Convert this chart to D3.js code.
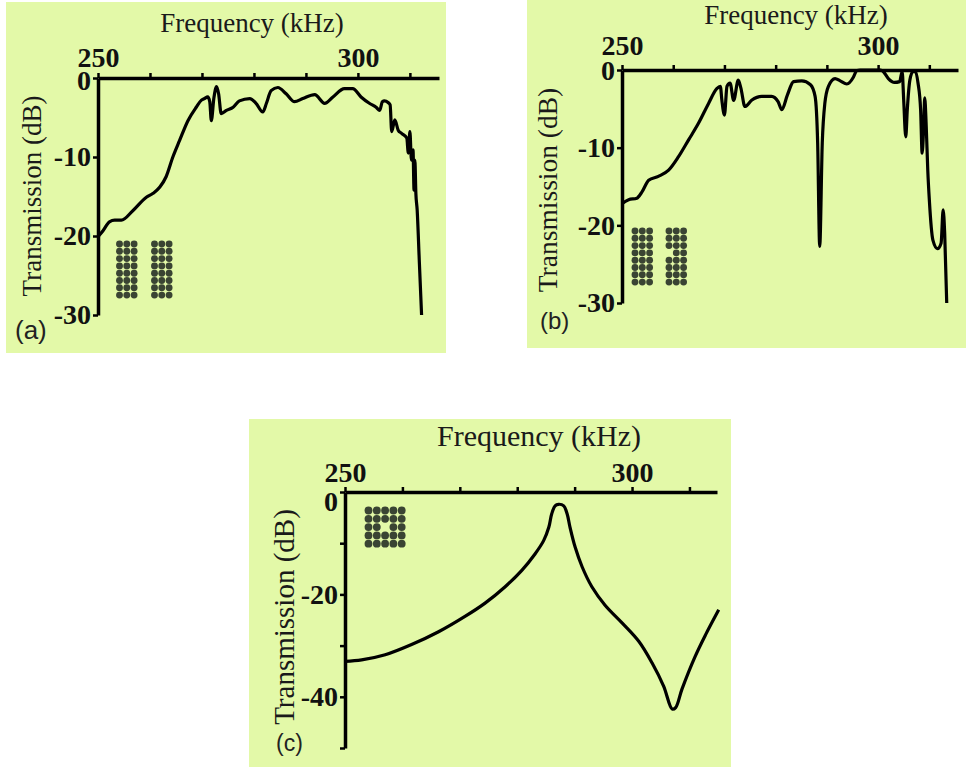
<!DOCTYPE html>
<html>
<head>
<meta charset="utf-8">
<script src="https://cdn.jsdelivr.net/npm/d3@7"></script>
<style>
  body { margin: 0; background: #fff; }
  .tick text { font-family: "Liberation Serif", "Times New Roman", serif; font-weight: bold; font-size: 28px; fill: #111; }
  .title { font-family: "Liberation Serif", "Times New Roman", serif; fill: #1a1a1a; }
  .plabel { font-family: "Liberation Sans", Arial, sans-serif; fill: #222; }
</style>
</head>
<body>
<svg id="fig" width="966" height="767"></svg>
<script>
// frequency (kHz) and transmission (dB)
const freqA = [250, 251, 252.2, 253.2, 254.5, 256.7, 259.3, 260.6, 261.9, 263.1, 264.4, 265.7, 267.3, 268.9, 269.9, 270.5, 271.1, 271.5, 271.8, 272.3, 272.8, 273.2, 273.7, 274.7, 276, 277.2, 279.2, 280.4, 281.7, 282.4, 283.3, 284.6, 286.2, 287.8, 289.4, 291.7, 293.6, 295.2, 297.4, 299, 300.6, 302.2, 303.5, 304.2, 304.7, 305.1, 305.8, 306.2, 306.5, 307.1, 307.75, 308.4, 309.4, 309.7, 310, 310.3, 310.6, 310.8, 310.96, 311.15, 311.4, 311.8, 312.25];
const transA = [-20.1, -19.3, -18.2, -18.0, -18.0, -16.8, -15.1, -14.6, -13.8, -12.5, -10.0, -7.9, -5.4, -3.7, -2.8, -2.6, -2.4, -3.0, -5.4, -2.5, -1.1, -2.0, -4.5, -4.1, -3.7, -2.9, -2.6, -3.2, -4.3, -3.2, -1.6, -1.2, -2.0, -3.0, -2.6, -2.1, -3.2, -2.4, -1.35, -1.35, -2.4, -3.2, -3.7, -4.1, -3.0, -2.9, -3.1, -3.4, -6.8, -5.3, -6.6, -7.0, -7.6, -9.5, -6.8, -10.4, -9.1, -14.2, -10.4, -14.6, -16.7, -23, -30];

const freqB = [250, 251.3, 252.9, 253.9, 255.2, 257.1, 259.1, 261, 263, 264.9, 266.9, 268.5, 269.2, 269.5, 270, 270.5, 271.1, 271.8, 272.7, 273.2, 274, 275.3, 277.3, 279.2, 280.5, 281.2, 282.3, 283.5, 285.1, 286.8, 287.7, 288.2, 288.6, 289.1, 289.6, 290.3, 291.6, 292.6, 293.9, 295.2, 295.8, 296.5, 300.5, 301, 302, 303.2, 304.2, 304.7, 305, 305.4, 305.7, 306.2, 306.8, 307.3, 307.8, 308.3, 308.6, 308.9, 309.1, 309.4, 309.7, 310, 310.7, 311.6, 312.3, 312.7, 313, 313.4];
const transB = [-17.2, -16.7, -16.5, -15.7, -14.2, -13.7, -12.9, -11.2, -9.0, -6.9, -4.3, -2.4, -2.1, -3.9, -5.8, -2.1, -1.7, -3.9, -1.3, -2.3, -4.7, -3.9, -3.4, -3.4, -4.1, -5.1, -3.2, -1.5, -1.4, -1.9, -3.4, -9.4, -22.7, -9.4, -4.3, -2.1, -1.1, -1.4, -1.8, -0.9, -0.1, 0, 0, -0.2, -1.1, -1.6, -1.5, -0.2, -3.9, -8.6, -5.1, -1.3, -0.2, -0.2, -1.7, -5.1, -10.7, -7.3, -3.6, -7.3, -12.9, -16.7, -21.9, -23, -22.3, -18, -21, -30];

const freqC = [250, 252.9, 257, 261.6, 266.3, 270.9, 274.4, 277.9, 280.8, 283.1, 284.6, 285.5, 286, 286.6, 287.2, 288.1, 288.7, 289.2, 290.1, 291.3, 293, 295.3, 298.3, 301.2, 303.5, 305.5, 307, 307.6, 308.7, 311, 312.8, 315.1];
const transC = [-33.1, -32.8, -31.8, -29.8, -27.3, -24.3, -21.7, -18.5, -15.3, -12.1, -9.5, -6.9, -4.3, -2.7, -2.4, -2.7, -4.3, -6.9, -10.8, -14.6, -18.5, -22.1, -25.6, -29.2, -33.4, -37.9, -42.4, -42.1, -38.5, -32.1, -27.9, -23.0];

// axis ticks and labels
const xTicks = [250, 260, 270, 280, 290, 300, 310];
const xLabels = [250, 300];
const yTicksAB = [0, -10, -20, -30];
const yTicksC = [0, -10, -20, -30, -40, -50];
const yLabelsC = [0, -20, -40];

const svg = d3.select("#fig");
const bg = "#e3f9a8";
const dotColor = "#3a4433";

const panels = [
  { freq: freqA, trans: transA, label: "(a)",
    box: [6, 2, 440, 351], left: 98, right: 439, top: 78, bottom: 315, xMax: 315.6, yMin: -30,
    yTicks: yTicksAB, yLabels: yTicksAB, curve: d3.curveMonotoneX, xPad: 6, zeroDy: 3,
    title: [252, 32, 27], ytitle: [41, 196, 27], plabel: [15, 339, 26],
    dots: { x0: [119.5, 154.5], y0: 244, s: 7.3, cols: 3, rows: 8, missing: [] } },
  { freq: freqB, trans: transB, label: "(b)",
    box: [527, 0, 439, 348], left: 622, right: 958, top: 70, bottom: 303, xMax: 315.6, yMin: -30,
    yTicks: yTicksAB, yLabels: yTicksAB, curve: d3.curveMonotoneX, xPad: 10, zeroDy: 1,
    title: [796, 24, 27], ytitle: [557, 190, 27.5], plabel: [540, 329, 24],
    dots: { x0: [635, 669], y0: 231, s: 7.3, cols: 3, rows: 8, missing: [[1, 0, 3]] } },
  { freq: freqC, trans: transC, label: "(c)",
    box: [249, 419, 482, 348], left: 345, right: 717, top: 492, bottom: 748, xMax: 314.8, yMin: -50,
    yTicks: yTicksC, yLabels: yLabelsC, curve: d3.curveCatmullRom.alpha(0.5), xPad: 5, zeroDy: 10,
    title: [539, 446, 30], ytitle: [294, 617, 29], plabel: [276, 751, 23],
    dots: { x0: [368.5], y0: 510.5, s: 8.3, cols: 5, rows: 5, missing: [[0, 2, 2]] } }
];

panels.forEach(p => {
  const g = svg.append("g");

  g.append("rect")
    .attr("x", p.box[0]).attr("y", p.box[1])
    .attr("width", p.box[2]).attr("height", p.box[3])
    .attr("fill", bg);

  const x = d3.scaleLinear().domain([250, p.xMax]).range([p.left, p.right]);
  const y = d3.scaleLinear().domain([0, p.yMin]).range([p.top, p.bottom]);

  // inset sketch of the rod lattice
  const d = p.dots;
  d.x0.forEach((bx, bi) => {
    for (let r = 0; r < d.rows; r++) {
      for (let c = 0; c < d.cols; c++) {
        if (d.missing.some(m => m[0] == bi && m[1] == c && m[2] == r)) continue;
        g.append("circle")
          .attr("cx", bx + c * d.s).attr("cy", d.y0 + r * d.s)
          .attr("r", d.s * 0.47)
          .attr("fill", dotColor);
      }
    }
  });

  const line = d3.line()
    .x((v, i) => x(p.freq[i]))
    .y(v => y(v))
    .curve(p.curve);

  g.append("path")
    .datum(p.trans)
    .attr("d", line)
    .attr("fill", "none")
    .attr("stroke", "#000")
    .attr("stroke-width", 3.2)
    .attr("stroke-linejoin", "round");

  const xAxis = g.append("g")
    .attr("transform", "translate(0," + p.top + ")")
    .call(d3.axisTop(x).tickValues(xTicks).tickSize(5).tickSizeOuter(0).tickPadding(p.xPad)
      .tickFormat(v => xLabels.includes(v) ? v : ""));

  const yAxis = g.append("g")
    .attr("transform", "translate(" + p.left + ",0)")
    .call(d3.axisLeft(y).tickValues(p.yTicks).tickSize(5).tickSizeOuter(0).tickPadding(2)
      .tickFormat(v => p.yLabels.includes(v) ? String(v) : ""));

  [xAxis, yAxis].forEach(a => {
    a.select(".domain").attr("stroke", "#000").attr("stroke-width", 3.5);
    a.selectAll(".tick line").attr("stroke", "#000").attr("stroke-width", 2.5);
  });
  yAxis.selectAll(".tick").filter(v => v === 0).select("text").attr("y", p.zeroDy);

  g.append("text")
    .attr("class", "title")
    .attr("x", p.title[0]).attr("y", p.title[1])
    .attr("text-anchor", "middle")
    .style("font-size", p.title[2] + "px")
    .text("Frequency (kHz)");

  g.append("text")
    .attr("class", "title")
    .attr("transform", "translate(" + p.ytitle[0] + "," + p.ytitle[1] + ") rotate(-90)")
    .attr("text-anchor", "middle")
    .style("font-size", p.ytitle[2] + "px")
    .text("Transmission (dB)");

  g.append("text")
    .attr("class", "plabel")
    .attr("x", p.plabel[0]).attr("y", p.plabel[1])
    .style("font-size", p.plabel[2] + "px")
    .text(p.label);
});
</script>
</body>
</html>
